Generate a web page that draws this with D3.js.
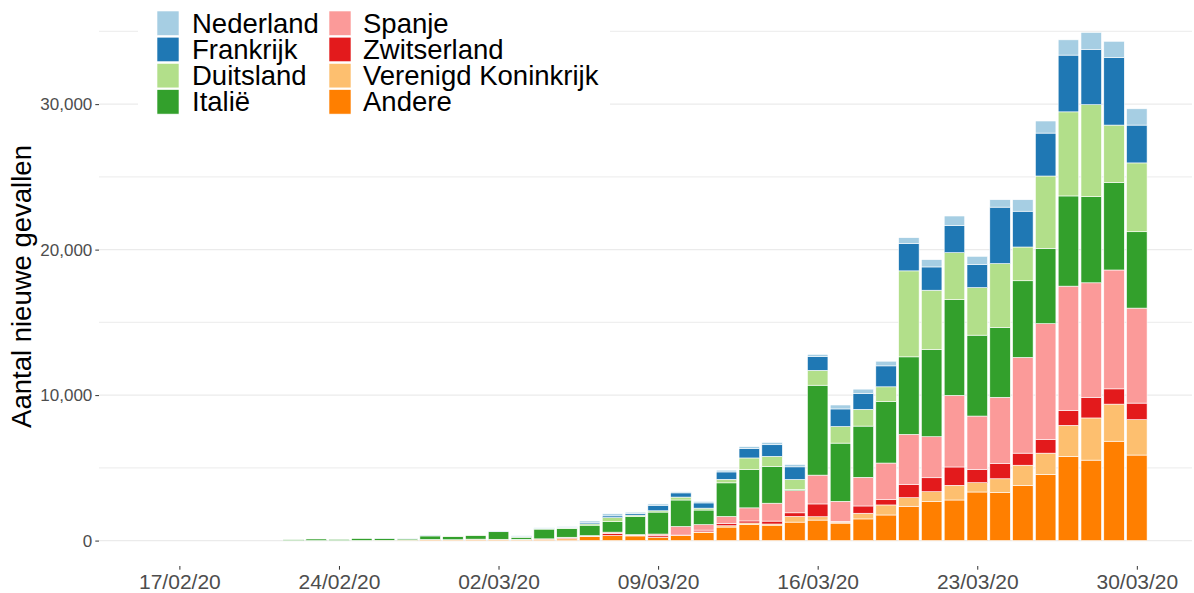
<!DOCTYPE html>
<html>
<head>
<meta charset="utf-8">
<script src="https://cdn.jsdelivr.net/npm/d3@7"></script>
<style>
  html, body { margin: 0; padding: 0; background: #fff; }
  svg { display: block; font-family: "Liberation Sans", Arial, sans-serif; }
</style>
</head>
<body>
<div id="chart"></div>
<script>
// ---------- DATA (new cases per day, 22/02/20 .. 30/03/20) ----------
const dates = ["2020-02-22","2020-02-23","2020-02-24","2020-02-25","2020-02-26","2020-02-27","2020-02-28","2020-02-29",
  "2020-03-01","2020-03-02","2020-03-03","2020-03-04","2020-03-05","2020-03-06","2020-03-07","2020-03-08","2020-03-09",
  "2020-03-10","2020-03-11","2020-03-12","2020-03-13","2020-03-14","2020-03-15","2020-03-16","2020-03-17","2020-03-18",
  "2020-03-19","2020-03-20","2020-03-21","2020-03-22","2020-03-23","2020-03-24","2020-03-25","2020-03-26","2020-03-27",
  "2020-03-28","2020-03-29","2020-03-30"];

const andere      = [0,0,0,10,20,30,70,50,90,80,50,100,110,280,350,320,230,360,560,930,1110,1060,1270,1410,1200,1490,1760,2360,2680,2790,3340,3320,3790,4550,5780,5530,6830,5880];
const verenigdKoninkrijk = [0,0,0,0,0,0,0,0,0,0,0,0,20,20,0,0,0,0,40,90,100,80,390,230,70,390,690,590,680,1010,640,930,1390,1460,2140,2900,2550,2430];
const zwitserland = [0,0,0,0,0,0,0,0,0,0,40,10,50,0,150,40,100,20,120,160,140,200,250,880,50,500,360,920,960,1260,920,1040,830,930,1020,1420,1050,1140];
const spanje      = [0,0,0,0,0,0,10,10,10,10,0,10,50,40,80,50,120,590,380,480,900,1230,1520,1980,1380,1970,2520,3430,2820,4920,3660,4560,6580,7970,8550,7870,8170,6530];
const italie      = [60,110,80,130,130,80,240,230,260,520,140,670,600,720,730,1240,1510,1820,1000,2310,2630,2530,90,6180,4000,3520,4240,5330,6000,6590,5560,4800,5270,5180,6200,5920,6020,5250];
const duitsland   = [0,0,0,0,0,20,30,30,40,30,40,40,40,90,270,100,90,200,130,240,800,690,680,1020,1140,1150,1000,5910,4070,3220,3270,4390,2320,4970,5780,6320,3940,4730];
const frankrijk   = [0,0,0,0,10,10,20,20,30,30,30,20,50,110,120,110,380,290,360,510,640,800,870,940,1210,1090,1440,1890,1600,1880,1600,3880,2460,2950,3900,3810,4650,2600];
const nederland   = [0,0,0,0,0,0,0,0,0,10,40,30,50,90,140,90,90,70,100,120,140,160,160,160,270,300,320,390,500,640,550,510,790,830,1050,1160,1110,1120];

// legend / stacking order (legend order; first = top of stack)
const seriesNames  = ["Nederland","Frankrijk","Duitsland","Italië","Spanje","Zwitserland","Verenigd Koninkrijk","Andere"];
const seriesValues = [nederland, frankrijk, duitsland, italie, spanje, zwitserland, verenigdKoninkrijk, andere];
const seriesColors = ["#A6CEE3","#1F78B4","#B2DF8A","#33A02C","#FB9A99","#E31A1C","#FDBF6F","#FF7F00"];

const xTickDates = ["2020-02-17","2020-02-24","2020-03-02","2020-03-09","2020-03-16","2020-03-23","2020-03-30"];
const yTickValues = [0, 10000, 20000, 30000];
const yMinorValues = [5000, 15000, 25000, 35000];

// ---------- LAYOUT ----------
const W = 1194, H = 593;
const panel = { left: 99, right: 1192, top: 7, bottom: 566 };
const DAY = 86400000;
const parse = d3.utcParse("%Y-%m-%d");
const ref = parse("2020-02-17").getTime();

const x = d3.scaleUtc()
  .domain([new Date(ref - 3.526 * DAY), new Date(ref + 44.42 * DAY)])
  .range([panel.left, panel.right]);

const yMax = 34930, yExp = yMax * 0.05;
const y = d3.scaleLinear()
  .domain([-yExp, yMax + yExp])
  .range([panel.bottom, panel.top]);

// build table for stacking (bottom series = last in legend)
const stackKeys = seriesNames.slice().reverse();
const table = dates.map((d, i) => {
  const row = { date: parse(d) };
  seriesNames.forEach((n, k) => { row[n] = seriesValues[k][i]; });
  return row;
});
const stacked = d3.stack().keys(stackKeys)(table);
const color = d3.scaleOrdinal().domain(seriesNames).range(seriesColors);

const svg = d3.select("#chart").append("svg")
  .attr("width", W).attr("height", H);

// gridlines
const grid = svg.append("g");
grid.selectAll("line.minor").data(yMinorValues).join("line")
  .attr("class", "minor")
  .attr("x1", panel.left).attr("x2", panel.right)
  .attr("y1", d => y(d)).attr("y2", d => y(d))
  .attr("stroke", "#EFEFEF").attr("stroke-width", 1.1);
grid.selectAll("line.major").data(yTickValues).join("line")
  .attr("class", "major")
  .attr("x1", panel.left).attr("x2", panel.right)
  .attr("y1", d => y(d)).attr("y2", d => y(d))
  .attr("stroke", "#EBEBEB").attr("stroke-width", 1.4);

// bars
const halfW = 0.45 * DAY;
const bars = svg.append("g");
bars.selectAll("g.series").data(stacked).join("g")
  .attr("class", "series")
  .attr("fill", d => color(d.key))
  .selectAll("rect").data(d => d).join("rect")
  .attr("x", d => x(new Date(d.data.date.getTime() - halfW)))
  .attr("width", d => x(new Date(d.data.date.getTime() + halfW)) - x(new Date(d.data.date.getTime() - halfW)))
  .attr("y", d => y(d[1]))
  .attr("height", d => Math.max(0, y(d[0]) - y(d[1])))
  .attr("stroke", "#FFFFFF").attr("stroke-width", 0.6);

// y axis
const yAxis = svg.append("g")
  .attr("transform", `translate(${panel.left},0)`)
  .call(d3.axisLeft(y).tickValues(yTickValues).tickFormat(d3.format(",")).tickSize(3.7).tickPadding(3));
yAxis.select(".domain").remove();
yAxis.selectAll(".tick line").attr("stroke", "#333333").attr("stroke-width", 1);
yAxis.selectAll(".tick text").attr("fill", "#4D4D4D").style("font-size", "17px")
  .style("font-family", "'Liberation Sans', Arial, sans-serif");

// x axis
const xAxis = svg.append("g")
  .attr("transform", `translate(0,${panel.bottom})`)
  .call(d3.axisBottom(x).tickValues(xTickDates.map(parse)).tickFormat(d3.utcFormat("%d/%m/%y")).tickSize(3.7).tickPadding(4));
xAxis.select(".domain").remove();
xAxis.selectAll(".tick line").attr("stroke", "#333333").attr("stroke-width", 1);
xAxis.selectAll(".tick text").attr("fill", "#4D4D4D").style("font-size", "21px")
  .style("font-family", "'Liberation Sans', Arial, sans-serif");

// y title
svg.append("text")
  .attr("transform", `translate(21,${(panel.top + panel.bottom) / 2}) rotate(-90)`)
  .attr("text-anchor", "middle").attr("dy", "0.35em")
  .style("font-size", "27.5px").attr("fill", "#000")
  .text("Aantal nieuwe gevallen");

// legend
const legend = svg.append("g");
legend.append("rect")
  .attr("x", 138).attr("y", 0).attr("width", 472).attr("height", 122)
  .attr("fill", "#FFFFFF");
const colX = [157, 329], textX = [192, 363];
const rowTop = 11, rowPitch = 26.2;
seriesNames.forEach((n, i) => {
  const col = Math.floor(i / 4), row = i % 4;
  const top = rowTop + row * rowPitch;
  legend.append("rect")
    .attr("x", colX[col]).attr("y", top).attr("width", 22).attr("height", 24.5)
    .attr("fill", color(n)).attr("stroke", "#FFFFFF").attr("stroke-width", 0.6);
  legend.append("text")
    .attr("x", textX[col]).attr("y", top + 12.25).attr("dy", "0.35em")
    .style("font-size", "27.5px").attr("fill", "#000")
    .text(n);
});
</script>
</body>
</html>
